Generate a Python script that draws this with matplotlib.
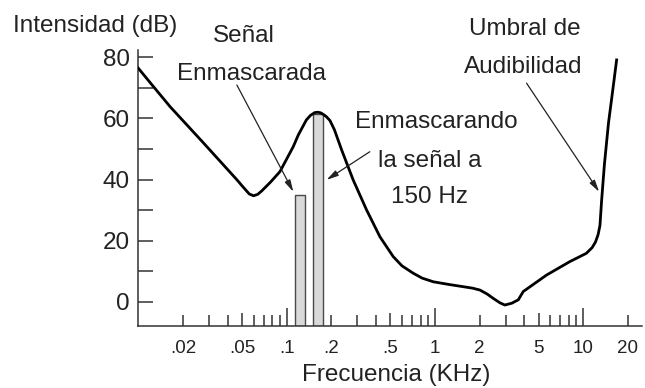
import numpy as np
import matplotlib
matplotlib.use("Agg")
import matplotlib.pyplot as plt

plt.rcParams["font.family"] = ["Liberation Sans", "DejaVu Sans"]

# threshold curve with masking bump (frequency in kHz, level in dB)
curve_freq = [0.01, 0.0123, 0.0164, 0.0276, 0.0463, 0.05, 0.053, 0.056, 0.0599,
              0.064, 0.068, 0.078, 0.0902, 0.111, 0.12, 0.136, 0.145, 0.155,
              0.163, 0.17, 0.178, 0.185, 0.196, 0.21, 0.235, 0.281, 0.346,
              0.426, 0.524, 0.6, 0.714, 0.82, 0.975, 1.25, 1.55, 1.8, 2.01,
              2.25, 2.47, 2.75, 2.96, 3.3, 3.65, 3.94, 5.66, 8.13, 10.5, 11.5,
              12.1, 12.6, 12.97, 13.3, 13.9, 14.8, 15.8, 16.8]
curve_db = [76.4, 71.1, 63.8, 51.9, 39.9, 38.0, 36.6, 35.3, 34.7,
            35.2, 36.3, 39.2, 42.6, 50.8, 54.6, 59.5, 61.0, 61.9,
            62.0, 61.8, 61.2, 60.6, 59.3, 56.3, 49.7, 39.9, 30.1,
            21.3, 14.8, 11.8, 9.4, 7.8, 6.6, 5.7, 5.0, 4.5, 3.9,
            2.6, 1.2, -0.3, -1.0, -0.4, 0.7, 3.4, 8.8, 13.2, 15.9, 17.8,
            19.6, 22.0, 25.0, 33.0, 45.0, 58.4, 69.0, 79.1]

# masked signal and masker tone
bar_freq = [0.123, 0.163]
bar_db = [35.0, 61.4]

x_major = [0.02, 0.05, 0.1, 0.2, 0.5, 1, 2, 5, 10, 20]
x_labels = [".02", ".05", ".1", ".2", ".5", "1", "2", "5", "10", "20"]
x_minor = [0.03, 0.04, 0.06, 0.07, 0.08, 0.09, 0.3, 0.4, 0.6, 0.7, 0.8, 0.9,
           3, 4, 6, 7, 8, 9]
y_major = [0, 20, 40, 60, 80]
y_minor = [10, 30, 50, 70]

dark = "#222222"

fig = plt.figure(figsize=(6.45, 3.88), dpi=100)
ax = fig.add_axes([0.2144, 0.1606, 0.7805, 0.7106])
ax.set_xscale("log")
ax.set_xlim(0.01, 24.8)
ax.set_ylim(-7.75, 82.35)

# bars (drawn from the bottom spine up)
half = 10 ** 0.035
bottom = ax.get_ylim()[0]
for f, level in zip(bar_freq, bar_db):
    ax.bar(f / half, level - bottom, width=f * half - f / half, bottom=bottom,
           align="edge", color="#d9d9d9", edgecolor="#4a4a4a", linewidth=1.0,
           zorder=2)

ax.plot(curve_freq, curve_db, color="black", linewidth=2.0, zorder=3,
        solid_joinstyle="round")

# spines
for side in ["top", "right"]:
    ax.spines[side].set_visible(False)
for side in ["left", "bottom"]:
    ax.spines[side].set_color("#333333")
    ax.spines[side].set_linewidth(1.1)

# x ticks
ax.set_xticks(x_major)
ax.set_xticklabels(x_labels)
ax.set_xticks(x_minor, minor=True)
ax.xaxis.set_minor_formatter(matplotlib.ticker.NullFormatter())
ax.tick_params(axis="x", which="both", direction="in", length=7.7, width=1.1,
               color="#333333", labelsize=13.5, labelcolor=dark, pad=10)
for tick, val in zip(ax.xaxis.get_major_ticks(), x_major):
    if val in (0.1, 1, 10):
        tick.tick1line.set_markersize(13)
    elif val in (0.05, 0.5, 5):
        tick.tick1line.set_markersize(9.4)

# y ticks
ax.set_yticks(y_major)
ax.set_yticks(y_minor, minor=True)
ax.tick_params(axis="y", which="both", direction="in", length=10.8, width=1.1,
               color="#333333", labelsize=17.5, labelcolor=dark, pad=6)

ax.set_xlabel("Frecuencia (KHz)", fontsize=17.5, color=dark)
ax.xaxis.label.set_va("baseline")
ax.xaxis.set_label_coords(0.512, -0.1995)
ax.set_ylabel("Intensidad (dB)", fontsize=17.5, color=dark, rotation=0,
              ha="left", va="baseline")
ax.yaxis.set_label_coords(-0.2495, 1.0664)

# annotations
txt = dict(fontsize=17.5, color=dark, ha="center", va="baseline",
           clip_on=False)
arrow = dict(arrowstyle="-|>,head_length=0.7,head_width=0.18", color=dark,
             lw=0.9, shrinkA=0, shrinkB=0)

ax.text(0.0515, 85.1, "Señal", **txt)
ax.text(0.0584, 72.6, "Enmascarada", **txt)
ax.annotate("", xy=(0.111, 36.0), xytext=(0.0462, 70.9), arrowprops=arrow)

ax.text(1.03, 56.8, "Enmascarando", **txt)
ax.text(0.93, 44.1, "la señal a", **txt)
ax.text(0.925, 32.4, "150 Hz", **txt)
ax.annotate("", xy=(0.186, 39.9), xytext=(0.364, 49.1), arrowprops=arrow)

ax.text(4.04, 87.3, "Umbral de", **txt)
ax.text(3.92, 74.7, "Audibilidad", **txt)
ax.annotate("", xy=(12.8, 36.0), xytext=(4.15, 71.5), arrowprops=arrow)

fig.savefig("out.png", dpi=100)
